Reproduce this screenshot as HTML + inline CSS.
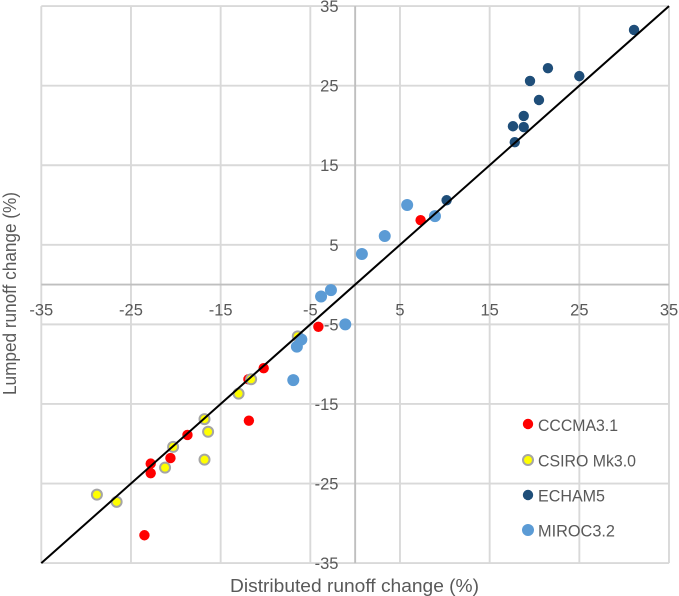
<!DOCTYPE html>
<html lang="en">
<head>
<meta charset="utf-8">
<title>Distributed vs lumped runoff change</title>
<style>
  html, body { margin: 0; padding: 0; background: #ffffff; }
  body { width: 679px; height: 596px; overflow: hidden; }
  svg { display: block; font-family: "Liberation Sans", sans-serif; }
  text { fill: #595959; }
</style>
</head>
<body>
<svg id="chart" width="679" height="596" viewBox="0 0 679 596" xmlns="http://www.w3.org/2000/svg">
  <g id="grid"></g>
  <g id="axes"></g>
  <g id="ticks"></g>
  <g id="marks"></g>
  <g id="refline"></g>

  <text x="230" y="592" font-size="18" textLength="249" lengthAdjust="spacingAndGlyphs">Distributed runoff change (%)</text>
  <text transform="translate(16,395) rotate(-90)" x="0" y="0" font-size="18" textLength="203" lengthAdjust="spacingAndGlyphs">Lumped runoff change (%)</text>

  <g font-size="16.5">
    <g>
      <circle cx="528" cy="424" r="5.2" fill="#ff0000"/>
      <text x="538" y="431" textLength="80" lengthAdjust="spacingAndGlyphs">CCCMA3.1</text>
    </g>
    <g>
      <circle cx="528" cy="460" r="5" fill="#ffff00" stroke="#a5a5a5" stroke-width="2"/>
      <text x="538" y="466.500" textLength="98" lengthAdjust="spacingAndGlyphs">CSIRO Mk3.0</text>
    </g>
    <g>
      <circle cx="528" cy="495" r="5.2" fill="#1f4e79"/>
      <text x="538" y="501.500" textLength="67" lengthAdjust="spacingAndGlyphs">ECHAM5</text>
    </g>
    <g>
      <circle cx="528" cy="530" r="6" fill="#5b9bd5"/>
      <text x="538" y="536.500" textLength="77" lengthAdjust="spacingAndGlyphs">MIROC3.2</text>
    </g>
  </g>
</svg>

<script>
var xTicks = [-35, -25, -15, -5, 5, 15, 25, 35];
var yTicks = [35, 25, 15, 5, -5, -15, -25, -35];

var cccmaX = [7.3, -4.1, -10.2, -11.9, -11.85, -18.7, -20.6, -22.8, -22.8, -23.5];
var cccmaY = [8.1, -5.3, -10.5, -11.9, -17.1, -18.9, -21.8, -22.5, -23.7, -31.5];

var csiroX = [-28.8, -26.6, -21.2, -20.3, -16.8, -16.4, -16.8, -13.0, -11.6, -6.4];
var csiroY = [-26.4, -27.3, -23.0, -20.4, -22.0, -18.5, -16.9, -13.7, -11.9, -6.5];

var echamX = [31.1, 21.5, 19.5, 25.0, 20.5, 18.8, 17.6, 18.8, 17.8, 10.2];
var echamY = [32.0, 27.2, 25.6, 26.2, 23.2, 21.2, 19.9, 19.8, 17.9, 10.6];

var mirocX = [5.8, 8.9, 3.3, 0.75, -2.7, -3.8, -1.1, -6.0, -6.5, -6.9];
var mirocY = [10.0, 8.6, 6.1, 3.85, -0.7, -1.5, -5.0, -6.9, -7.8, -12.0];

var lineX = [-35, 35];
var lineY = [-35, 35];

var NS = 'http://www.w3.org/2000/svg';

function sx(v) { return 355.15 + v * 8.967; }
function sy(v) { return 284.6 - v * 7.957; }

function make(tag, attrs, parent) {
  var el = document.createElementNS(NS, tag);
  for (var k in attrs) { el.setAttribute(k, attrs[k]); }
  parent.appendChild(el);
  return el;
}

var gridG = document.getElementById('grid');
var axesG = document.getElementById('axes');
var ticksG = document.getElementById('ticks');
var marksG = document.getElementById('marks');
var lineG = document.getElementById('refline');

xTicks.forEach(function (t) {
  var l = make('line', { x1: sx(t), x2: sx(t), y1: sy(35), y2: sy(-35), stroke: '#d9d9d9', 'stroke-width': 1.9 }, gridG);
  
  
});

yTicks.forEach(function (t) {
  var l = make('line', { x1: sx(-35), x2: sx(35), y1: sy(t), y2: sy(t), stroke: '#d9d9d9', 'stroke-width': 1.9 }, gridG);
  
  
});

xTicks.forEach(function (t) {
  var s = make('text', { x: sx(t), y: 315.5, 'font-size': 16.5, 'text-anchor': 'middle' }, ticksG);
  s.textContent = String(t);
  
  
});

yTicks.forEach(function (t) {
  var s = make('text', { x: 338.5, y: sy(t) + 6, 'font-size': 16.5, 'text-anchor': 'end' }, ticksG);
  s.textContent = String(t);
  
  
});

var xAxis = make('line', { x1: sx(-35), x2: sx(35), y1: sy(0), y2: sy(0), stroke: '#bfbfbf', 'stroke-width': 1.9 }, axesG);


var yAxis = make('line', { x1: sx(0), x2: sx(0), y1: sy(35), y2: sy(-35), stroke: '#bfbfbf', 'stroke-width': 1.9 }, axesG);



function drawSeries(xs, ys, attrs, name) {
  xs.forEach(function (x, i) {
    var c = make('circle', attrs, marksG);
    c.setAttribute('cx', sx(x));
    c.setAttribute('cy', sy(ys[i]));
    
    
  });
}

drawSeries(cccmaX, cccmaY, { r: 5.2, fill: '#ff0000' }, 'cccma-point');
drawSeries(csiroX, csiroY, { r: 5, fill: '#ffff00', stroke: '#a5a5a5', 'stroke-width': 2 }, 'csiro-point');
drawSeries(echamX, echamY, { r: 5.2, fill: '#1f4e79' }, 'echam-point');
drawSeries(mirocX, mirocY, { r: 6, fill: '#5b9bd5' }, 'miroc-point');

var ref = make('line', { x1: sx(lineX[0]), y1: sy(lineY[0]), x2: sx(lineX[1]), y2: sy(lineY[1]), stroke: '#000000', 'stroke-width': 2 }, lineG);


</script>
</body>
</html>
